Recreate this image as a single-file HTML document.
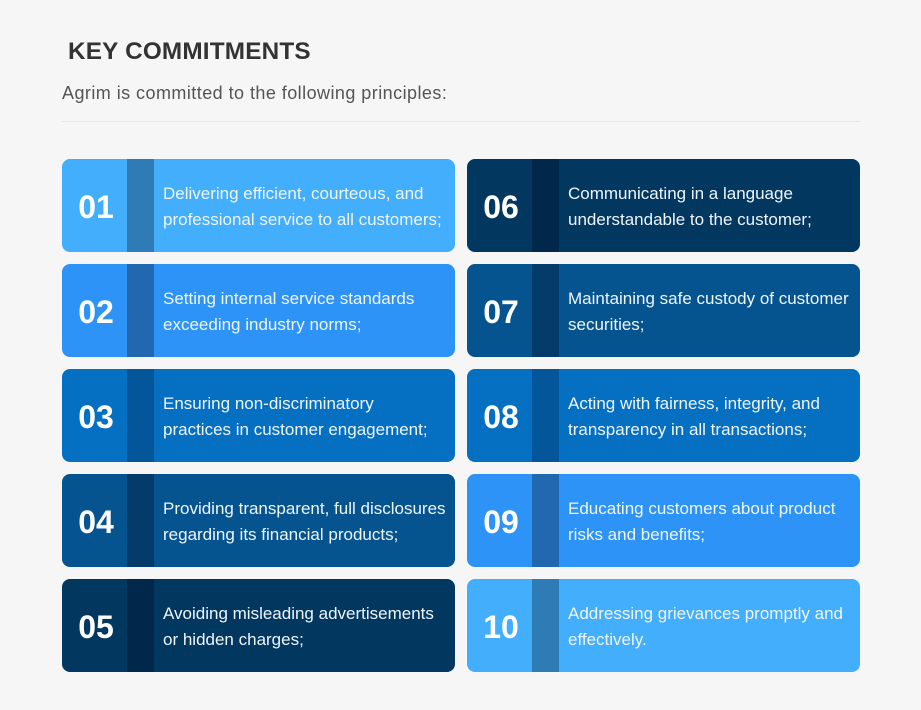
<!DOCTYPE html>
<html><head><meta charset="utf-8"><style>
body{margin:0;background:#f6f6f6;width:921px;height:710px;overflow:hidden;font-family:"Liberation Sans",sans-serif;position:relative}
.t{position:absolute;left:68px;top:38px;font-size:24.3px;font-weight:bold;color:#333;letter-spacing:0.2px}
.s{position:absolute;left:62px;top:83px;font-size:18px;letter-spacing:0.45px;color:#555}
.hr{position:absolute;left:62px;top:121px;width:798px;height:1px;background:#e6e6e6}
.c{position:absolute;width:393px;height:93px;border-radius:8px;overflow:hidden;color:#fff}
.n{position:absolute;left:0;top:2px;width:65px;height:93px;display:flex;align-items:center;justify-content:center;font-size:32px;font-weight:bold;padding-left:3px;box-sizing:border-box}
.st{position:absolute;left:65px;top:0;width:27px;height:93px}
.x{position:absolute;left:101px;top:22px;width:300px;font-size:17px;line-height:26px;color:#eef5fc;white-space:nowrap}
</style></head><body>
<div class="t">KEY COMMITMENTS</div>
<div class="s">Agrim is committed to the following principles:</div>
<div class="hr"></div>
<div id="g"></div>
<script>
const numbers=["01","02","03","04","05","06","07","08","09","10"];
const texts=["Delivering efficient, courteous, and<br>professional service to all customers;","Setting internal service standards<br>exceeding industry norms;","Ensuring non-discriminatory<br>practices in customer engagement;","Providing transparent, full disclosures<br>regarding its financial products;","Avoiding misleading advertisements<br>or hidden charges;","Communicating in a language<br>understandable to the customer;","Maintaining safe custody of customer<br>securities;","Acting with fairness, integrity, and<br>transparency in all transactions;","Educating customers about product<br>risks and benefits;","Addressing grievances promptly and<br>effectively."];
const bg=["#42aefc","#2e93f6","#0570c2","#055490","#023760"];
const sb=["#2f7bb6","#2268b0","#03569a","#043b6a","#01274a"];
const g=document.getElementById('g');
numbers.forEach((n,i)=>{
const col=i<5?0:1,row=i%5,ci=col?4-row:row;
const c=document.createElement('div');c.className='c';


c.style.left=(62+col*405)+'px';c.style.top=(159+row*105)+'px';c.style.background=bg[ci];
c.innerHTML='<div class="n">'+n+'</div><div class="st" style="background:'+sb[ci]+'"></div><div class="x">'+texts[i]+'</div>';
g.appendChild(c);});
</script>
</body></html>
